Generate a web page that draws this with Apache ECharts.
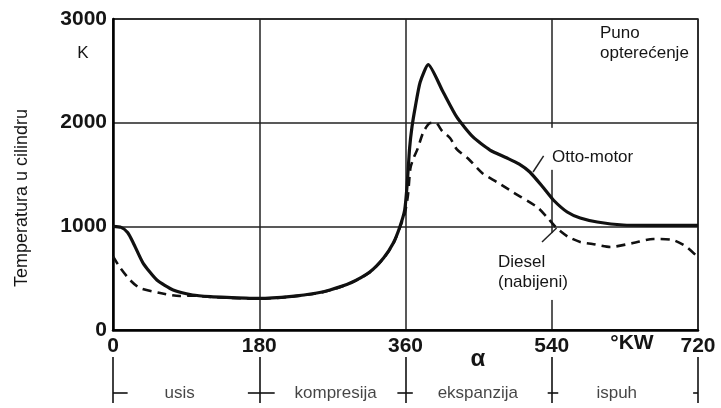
<!DOCTYPE html>
<html>
<head>
<meta charset="utf-8">
<script src="https://cdn.jsdelivr.net/npm/echarts@6/dist/echarts.min.js"></script>
<style>html,body{margin:0;padding:0;background:#fff}#c{width:721px;height:408px}</style>
</head>
<body>
<div id="c"></div>
<script>
// ---- data ----
const xTicks = [0, 180, 360, 540, 720];
const yTicks = [0, 1000, 2000, 3000];
const ottoDeg = [0,10,18,25,37,54,74,98,120,140,180,220,251,267,292,316,333,345,353,359,362,365,368,372,378,388,406,423,443,464,485,500,513,529,542,559,575,596,628,660,720];
const ottoT   = [1000,990,940,840,646,482,386,338,322,315,305,325,357,386,453,559,694,839,994,1157,1400,1750,1960,2150,2390,2560,2300,2055,1862,1736,1659,1600,1524,1379,1254,1138,1080,1042,1013,1010,1010];
const dieselDeg = [0,9,21,33,58,82,98,120,140,180,220,251,267,292,316,333,345,353,359,363,366,370,375,382,390,397,405,415,423,437,455,473,492,522,534,546,560,575,590,612,640,665,689,706,720];
const dieselT   = [710,598,482,405,357,328,332,319,312,302,322,354,383,450,556,690,835,988,1120,1300,1560,1660,1750,1910,1995,2000,1920,1850,1745,1655,1510,1425,1331,1186,1090,984,900,849,830,801,839,878,868,801,700];
const phases = ['usis', 'kompresija', 'ekspanzija', 'ispuh'];
const phasePos = [82, 274, 449, 620];
const phaseBounds = [0, 180, 360, 540, 720];
const phaseTicks = [[0,18],[166,199],[350,369],[535,548],[714,720]];
const ottoLeader = [[517,1524],[530,1680]];
const dieselLeader = [[528,849],[546,984]];
const gap540 = [[1545,1950],[290,935]];

const zip = (a, b) => a.map((v, i) => [v, b[i]]);
const FF = '"Liberation Sans", Arial, sans-serif';
const INK = '#151515';

const chart = echarts.init(document.getElementById('c'), null, {renderer: 'canvas'});
const phaseLines = phaseBounds.map(x => [{coord: [x, 0]}, {coord: [x, 1]}])
  .concat(phaseTicks.map(s => [{coord: [s[0], 0.22]}, {coord: [s[1], 0.22]}]));

chart.setOption({
  animation: false,
  backgroundColor: '#fff',
  grid: [
    {left: 113, right: 23, top: 19, bottom: 78, show: true, borderColor: '#222', borderWidth: 1.5},
    {left: 113, right: 23, top: 357, height: 46}
  ],
  xAxis: [
    {type: 'value', min: 0, max: 720, interval: 180,
     axisLine: {show: true, onZero: false, lineStyle: {color: '#000', width: 2.5}},
     axisTick: {show: false},
     axisLabel: {color: INK, fontFamily: FF, fontWeight: 'bold', fontSize: 21, margin: 6, formatter: v => String(v)},
     splitLine: {show: true, lineStyle: {color: '#222', width: 1.5}}},
    {gridIndex: 1, type: 'value', min: 0, max: 720, show: false}
  ],
  yAxis: [
    {type: 'value', min: 0, max: 3000, interval: 1000,
     axisLine: {show: true, onZero: false, lineStyle: {color: '#000', width: 2.5}},
     axisTick: {show: false},
     axisLabel: {color: INK, fontFamily: FF, fontWeight: 'bold', fontSize: 21, margin: 6, formatter: v => String(v)},
     splitLine: {show: true, lineStyle: {color: '#222', width: 1.5}}},
    {gridIndex: 1, type: 'value', min: 0, max: 1, show: false}
  ],
  series: [
    {name: 'Diesel (nabijeni)', type: 'line', data: zip(dieselDeg, dieselT), showSymbol: false,
     smooth: 0.25, z: 3,
     lineStyle: {color: '#111', width: 2.6, type: [9, 6]},
     markLine: {silent: true, symbol: 'none', label: {show: false},
       lineStyle: {color: '#222', width: 1.5, type: 'solid'},
       data: [[{coord: dieselLeader[0]}, {coord: dieselLeader[1]}]]}},
    {name: 'Otto-motor', type: 'line', data: zip(ottoDeg, ottoT), showSymbol: false,
     smooth: 0.2, z: 4,
     lineStyle: {color: '#111', width: 3.2},
     markLine: {silent: true, symbol: 'none', label: {show: false},
       lineStyle: {color: '#222', width: 1.5, type: 'solid'},
       data: [[{coord: ottoLeader[0]}, {coord: ottoLeader[1]}]]}},
    {type: 'scatter', xAxisIndex: 1, yAxisIndex: 1, symbolSize: 0, silent: true,
     data: phasePos.map((x, i) => ({value: [x, 0.2], name: phases[i]})),
     label: {show: true, position: 'inside', formatter: '{b}', color: INK, fontFamily: FF, fontSize: 17},
     markLine: {silent: true, symbol: 'none', label: {show: false},
       lineStyle: {color: '#111', width: 1.6, type: 'solid'},
       data: phaseLines}}
  ]
});

const txt = (x, y, text, extra) => Object.assign({type: 'text', z: 20, style: Object.assign({
  x: x, y: y, text: text, fill: INK, font: '17px ' + FF, textAlign: 'left', textVerticalAlign: 'middle'}, extra || {})});

const gx = chart.convertToPixel({xAxisIndex: 0}, 540);
const rects = gap540.map(g => {
  const y1 = chart.convertToPixel({yAxisIndex: 0}, g[1]);
  const y0 = chart.convertToPixel({yAxisIndex: 0}, g[0]);
  return {type: 'rect', z: 1, shape: {x: gx - 4, y: y1, width: 8, height: y0 - y1}, style: {fill: '#fff'}};
});

chart.setOption({graphic: rects.concat([
  txt(83, 53, 'K', {textAlign: 'center'}),
  {type: 'text', z: 20, x: 22, y: 198, rotation: Math.PI / 2,
   style: {x: 0, y: 0, text: 'Temperatura u cilindru', fill: INK, font: '18px ' + FF, textAlign: 'center', textVerticalAlign: 'middle'}},
  txt(600, 23, 'Puno\nopterećenje', {textVerticalAlign: 'top', lineHeight: 20}),
  txt(552, 157, 'Otto-motor'),
  txt(498, 252, 'Diesel\n(nabijeni)', {textVerticalAlign: 'top', lineHeight: 20}),
  txt(478, 359, 'α', {textAlign: 'center', font: 'bold 24px ' + FF}),
  txt(632, 343, '°KW', {textAlign: 'center', font: 'bold 21px ' + FF})
])});
</script>
</body>
</html>
